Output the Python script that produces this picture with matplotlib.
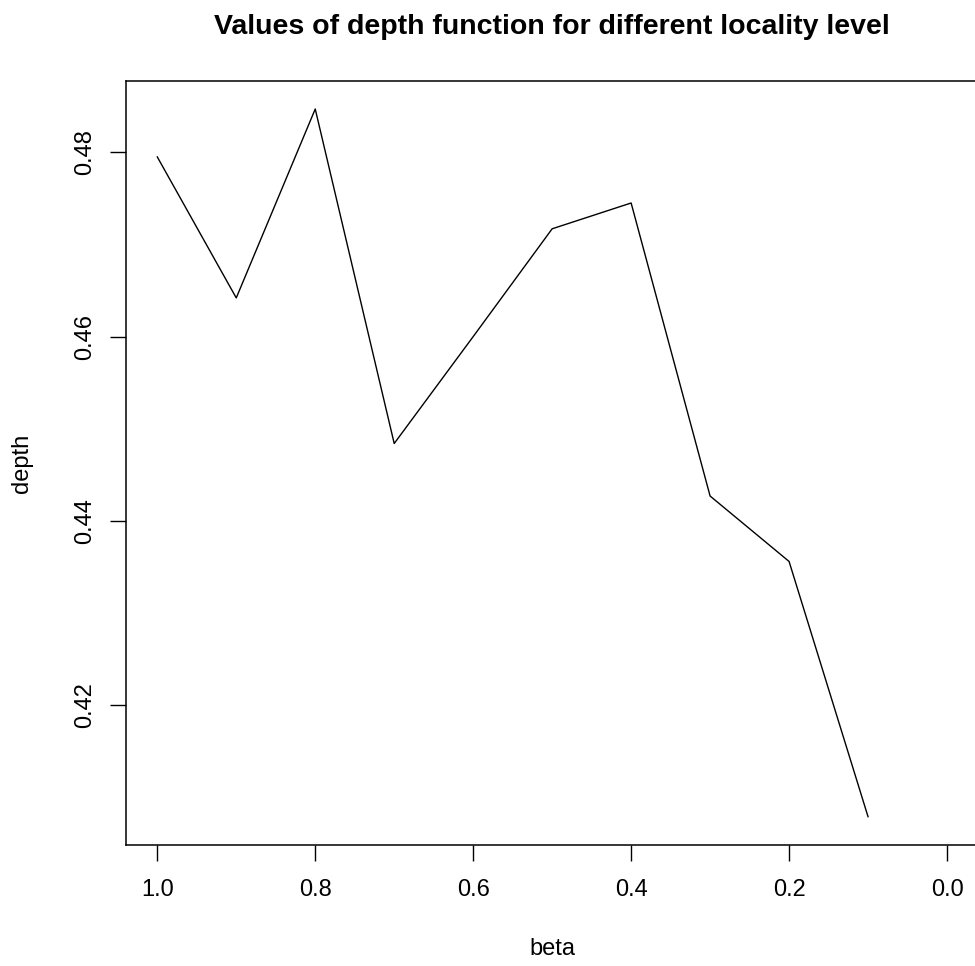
import numpy as np
import matplotlib
matplotlib.use("Agg")
import matplotlib.pyplot as plt

plt.rcParams['font.family'] = ['Liberation Sans', 'DejaVu Sans']

# locality level (beta) and the depth value obtained at each level
beta = [1.0, 0.9, 0.8, 0.7, 0.6, 0.5, 0.4, 0.3, 0.2, 0.1]
depth = [0.4795, 0.4642, 0.4847, 0.4484, 0.4600, 0.4717, 0.4745, 0.4427, 0.4356, 0.4079]

x_ticks = [1.0, 0.8, 0.6, 0.4, 0.2, 0.0]
x_tick_labels = ["1.0", "0.8", "0.6", "0.4", "0.2", "0.0"]
y_ticks = [0.42, 0.44, 0.46, 0.48]
y_tick_labels = ["0.42", "0.44", "0.46", "0.48"]

W, H = 975, 966
fig = plt.figure(figsize=(W / 100, H / 100), dpi=100)

# plot region in pixels (the right side runs off the canvas)
left, right, top, bottom = 125.7, 978.6, 80.7, 845.0
ax = fig.add_axes([left / W, 1 - bottom / H, (right - left) / W, (bottom - top) / H])

ax.plot(beta, depth, color="black", linewidth=1.0)

# R-style 4% padding around the data range, x reversed
xr = max(beta) - min(x_ticks)
ax.set_xlim(max(beta) + 0.04 * xr, min(x_ticks) - 0.04 * xr)
yr = max(depth) - min(depth)
ax.set_ylim(min(depth) - 0.04 * yr, max(depth) + 0.04 * yr)

ax.set_xticks(x_ticks)
ax.set_xticklabels(x_tick_labels)
ax.set_yticks(y_ticks)
ax.set_yticklabels(y_tick_labels, rotation=90, va="center")

ax.tick_params(axis="both", direction="out", length=11.5, width=1.0,
               labelsize=17, colors="black")
ax.tick_params(axis="x", pad=13)
ax.tick_params(axis="y", pad=10)
for sp in ax.spines.values():
    sp.set_linewidth(1.1)
    sp.set_color("black")

fig.text(552 / W, 1 - 34 / H, "Values of depth function for different locality level",
         ha="center", va="baseline", fontsize=20.5, fontweight="bold")
fig.text(552 / W, 1 - 949 / H, "beta", ha="center", va="center", fontsize=17)
fig.text(22.5 / W, 1 - 462.9 / H, "depth", ha="center", va="center",
         rotation=90, fontsize=17)

fig.savefig("out.png", dpi=100)
